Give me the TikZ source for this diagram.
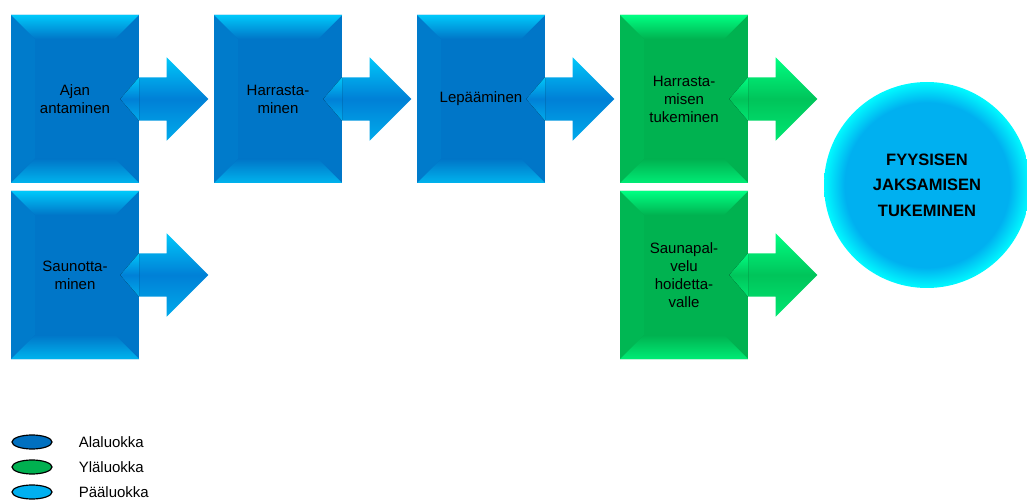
\documentclass[tikz,border=0pt]{standalone}
\usepackage{fontspec}
\setmainfont{Liberation Sans}
\usetikzlibrary{shapes.geometric,shapes.arrows,positioning}

\definecolor{blueMain}{RGB}{0,118,200}
\definecolor{blueLight}{RGB}{0,200,250}
\definecolor{blueArrow}{RGB}{0,128,214}
\definecolor{greenMain}{RGB}{0,178,80}
\definecolor{greenLight}{RGB}{0,255,130}
\definecolor{greenArrow}{RGB}{0,196,90}
\definecolor{orbIn}{RGB}{0,176,240}
\definecolor{orbOut}{RGB}{0,250,255}
\definecolor{legBlue}{RGB}{0,112,192}
\definecolor{legGreen}{RGB}{0,176,80}
\definecolor{legCyan}{RGB}{0,176,240}

\pgfdeclareradialshading{orbshade}{\pgfpoint{0bp}{0bp}}{%
color(0bp)=(orbIn); color(20bp)=(orbIn); color(25bp)=(orbOut); color(50bp)=(orbOut)}

\begin{document}
\begin{tikzpicture}[%
x=1pt, y=1pt,
node distance=176pt and 203pt,
on grid,
bevelbox/.style 2 args={rectangle, minimum width=128pt, minimum height=168pt,
  inner sep=0pt, fill=#1, align=center, font=\fontsize{15}{18}\selectfont,
  path picture={
    \fill[#1!94!#2] (path picture bounding box.north west)
      -- ([shift={(24pt,-24pt)}]path picture bounding box.north west)
      -- ([shift={(24pt,24pt)}]path picture bounding box.south west)
      -- (path picture bounding box.south west) -- cycle;
    \fill[top color=#2, bottom color=#1] (path picture bounding box.north west)
      -- (path picture bounding box.north east)
      -- ([shift={(-24pt,-24pt)}]path picture bounding box.north east)
      -- ([shift={(24pt,-24pt)}]path picture bounding box.north west) -- cycle;
    \fill[top color=#1, bottom color=#2!75!#1] (path picture bounding box.south west)
      -- ([shift={(24pt,24pt)}]path picture bounding box.south west)
      -- ([shift={(-24pt,24pt)}]path picture bounding box.south east)
      -- (path picture bounding box.south east) -- cycle;
  }},
bluebox/.style={bevelbox={blueMain}{blueLight}},
greenbox/.style={bevelbox={greenMain}{greenLight}},
blockarrow/.style 2 args={single arrow, single arrow head extend=20pt,
  inner xsep=0pt, inner ysep=21.5pt, text height=0pt, text depth=0pt,
  minimum height=69pt, minimum width=0pt, anchor=tail,
  top color=#2, bottom color=#2!60!#1, middle color=#1},
bluearrow/.style={blockarrow={blueArrow}{blueLight}},
greenarrow/.style={blockarrow={greenArrow}{greenLight}},
bluetail/.style={top color=blueLight, bottom color=blueLight!60!blueArrow, middle color=blueArrow},
greentail/.style={top color=greenLight, bottom color=greenLight!60!greenArrow, middle color=greenArrow},
orb/.style={circle, minimum size=206pt, inner sep=0pt, shading=orbshade,
  align=center, font=\bfseries\fontsize{16.5}{25.5}\selectfont},
legend/.style={ellipse, draw=black, line width=1.2pt, minimum width=40pt,
  minimum height=14pt, inner sep=0pt},
legtext/.style={font=\fontsize{15}{17}\selectfont, inner sep=0pt}
]
\useasboundingbox (0,0) rectangle (1027,-502);

% blocks
\node[bluebox] (ajan) at (75,-99) {Ajan\\antaminen};
\node[bluebox] (harr) [right=of ajan] {Harrasta-\\minen};
\node[bluebox] (lepo) [right=of harr] {Lepääminen};
\node[greenbox] (tuki) [right=of lepo] {Harrasta-\\misen\\tukeminen};
\node[greenbox] (sapa) [below=of tuki] {Saunapal-\\velu\\hoidetta-\\valle};
\node[bluebox] (saun) [below=of ajan] {Saunotta-\\minen};

% block arrows
\node[bluearrow] (a1) at (ajan.east) {};
\node[bluearrow] (a2) at (harr.east) {};
\node[bluearrow] (a3) at (lepo.east) {};
\node[bluearrow] (a6) at (saun.east) {};
\node[greenarrow] (a4) at (tuki.east) {};
\node[greenarrow] (a5) at (sapa.east) {};
\foreach \a in {a1,a2,a3,a6}
  \fill[bluetail] (\a.before tail) -- ([xshift=-19pt]\a.tail) -- (\a.after tail) -- cycle;
\foreach \a in {a4,a5}
  \fill[greentail] (\a.before tail) -- ([xshift=-19pt]\a.tail) -- (\a.after tail) -- cycle;

% main class
\node[orb] (fyys) at (927,-185) {FYYSISEN\\JAKSAMISEN\\TUKEMINEN};

% legend
\node[legend, fill=legBlue] (l1) at (32,-442) {};
\node[legend, fill=legGreen] (l2) [below=25pt of l1] {};
\node[legend, fill=legCyan] (l3) [below=25pt of l2] {};
\node[legtext, right=26pt of l1.east, anchor=west] (t1) {Alaluokka};
\node[legtext, right=26pt of l2.east, anchor=west] (t2) {Yläluokka};
\node[legtext, right=26pt of l3.east, anchor=west] (t3) {Pääluokka};

\end{tikzpicture}
\end{document}
